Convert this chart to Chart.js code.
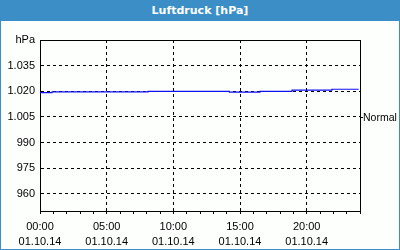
<!DOCTYPE html>
<html>
<head>
<meta charset="utf-8">
<script src="https://cdn.jsdelivr.net/npm/chart.js@4/dist/chart.umd.min.js"></script>
<style>
  html, body { margin: 0; padding: 0; background: #fff; }
  #card {
    position: absolute; left: 0; top: 0;
    width: 400px; height: 250px; box-sizing: border-box;
    border: 1px solid #3c8fc6; border-top: 0;
    background: #fcfffc;
  }
  #head {
    height: 21px; margin: 0 -1px; background: #3c8fc6;
    color: #fff; font: bold 11px "DejaVu Sans", sans-serif;
    text-align: center; line-height: 21px;
  }
  #wrap { position: relative; width: 398px; height: 228px; }
</style>
</head>
<body>
<div id="card">
  <div id="head">Luftdruck [hPa]</div>
  <div id="wrap"><canvas id="myChart"></canvas></div>
</div>
<script>
// hours of the day where the reading changes, and the pressure (hPa) from then on
const times = [0, 0.9, 8.1, 14.2, 16.5, 18.9, 21.9, 23.9];
const pressure = [1019.2, 1019.7, 1020, 1019.5, 1020, 1020.7, 1021.2, 1021.2];

const xTickLabels = ["00:00", "05:00", "10:00", "15:00", "20:00"];
const dateLabel = "01.10.14";
const yTicks = [960, 975, 990, 1005, 1020, 1035, 1050];
const yTickLabels = ["960", "975", "990", "1.005", "1.020", "1.035", "hPa"];
const normalValue = 1004.5;
const normalLabel = "Normal";

(function () {
  "use strict";

  const font = { family: "Liberation Sans", size: 11, lineHeight: 1.4 };

  const frame = {
    id: "frame",
    beforeDatasetsDraw: function (chart) {
      const a = chart.chartArea;
      const c = chart.ctx;
      c.save();
      c.strokeStyle = "#000";
      c.lineWidth = 1;
      c.strokeRect(Math.round(a.left) + 0.5, Math.round(a.top) + 0.5,
        Math.round(a.right - a.left), Math.round(a.bottom - a.top));
      c.restore();
    }
  };

  new Chart(document.getElementById("myChart"), {
    type: "line",
    data: {
      datasets: [{
        // each reading holds until the next change, hence the "before" step
        data: times.map(function (t, i) { return { x: t, y: pressure[i] }; }),
        borderColor: "#1010f0",
        borderWidth: 1.2,
        pointRadius: 0,
        stepped: "before",
        yAxisID: "y"
      }]
    },
    options: {
      responsive: true,
      maintainAspectRatio: false,
      animation: false,
      layout: { padding: { top: 19, left: 0, right: 0, bottom: 0 } },
      plugins: { legend: { display: false }, tooltip: { enabled: false } },
      scales: {
        x: {
          type: "linear",
          min: 0,
          max: 24,
          afterFit: function (s) { s.height = 38; },
          ticks: {
            stepSize: 1,
            autoSkip: false,
            maxRotation: 0,
            padding: 5,
            color: "#000",
            font: font,
            callback: function (v) {
              if (v % 5 !== 0) return "";
              return [xTickLabels[v / 5], dateLabel];
            }
          },
          grid: {
            color: function (ctx) {
              return ctx.tick && ctx.tick.value % 5 === 0 && ctx.tick.value > 0 ? "#000" : "transparent";
            },
            tickColor: "#000",
            tickLength: 3
          },
          border: { color: "#000", dash: [3, 3] }
        },
        y: {
          min: 950,
          max: 1050,
          afterFit: function (s) { s.width = 39; },
          afterBuildTicks: function (s) {
            s.ticks = yTicks.map(function (v) { return { value: v }; });
          },
          ticks: {
            padding: 5,
            color: "#000",
            font: font,
            callback: function (v) { return yTickLabels[yTicks.indexOf(v)]; }
          },
          grid: {
            drawTicks: false,
            color: function (ctx) {
              return ctx.tick && ctx.tick.value < 1050 ? "#000" : "transparent";
            }
          },
          border: { color: "#000", dash: [3, 3] }
        },
        y2: {
          position: "right",
          min: 950,
          max: 1050,
          afterFit: function (s) { s.width = 39; },
          afterBuildTicks: function (s) {
            s.ticks = [{ value: normalValue }];
          },
          ticks: {
            padding: 0,
            color: "#000",
            font: { family: "Liberation Sans", size: 10.5 },
            callback: function () { return normalLabel; }
          },
          grid: { drawOnChartArea: false, tickColor: "#000", tickLength: 3 },
          border: { color: "#000" }
        }
      }
    },
    plugins: [frame]
  });
})();
</script>
</body>
</html>
